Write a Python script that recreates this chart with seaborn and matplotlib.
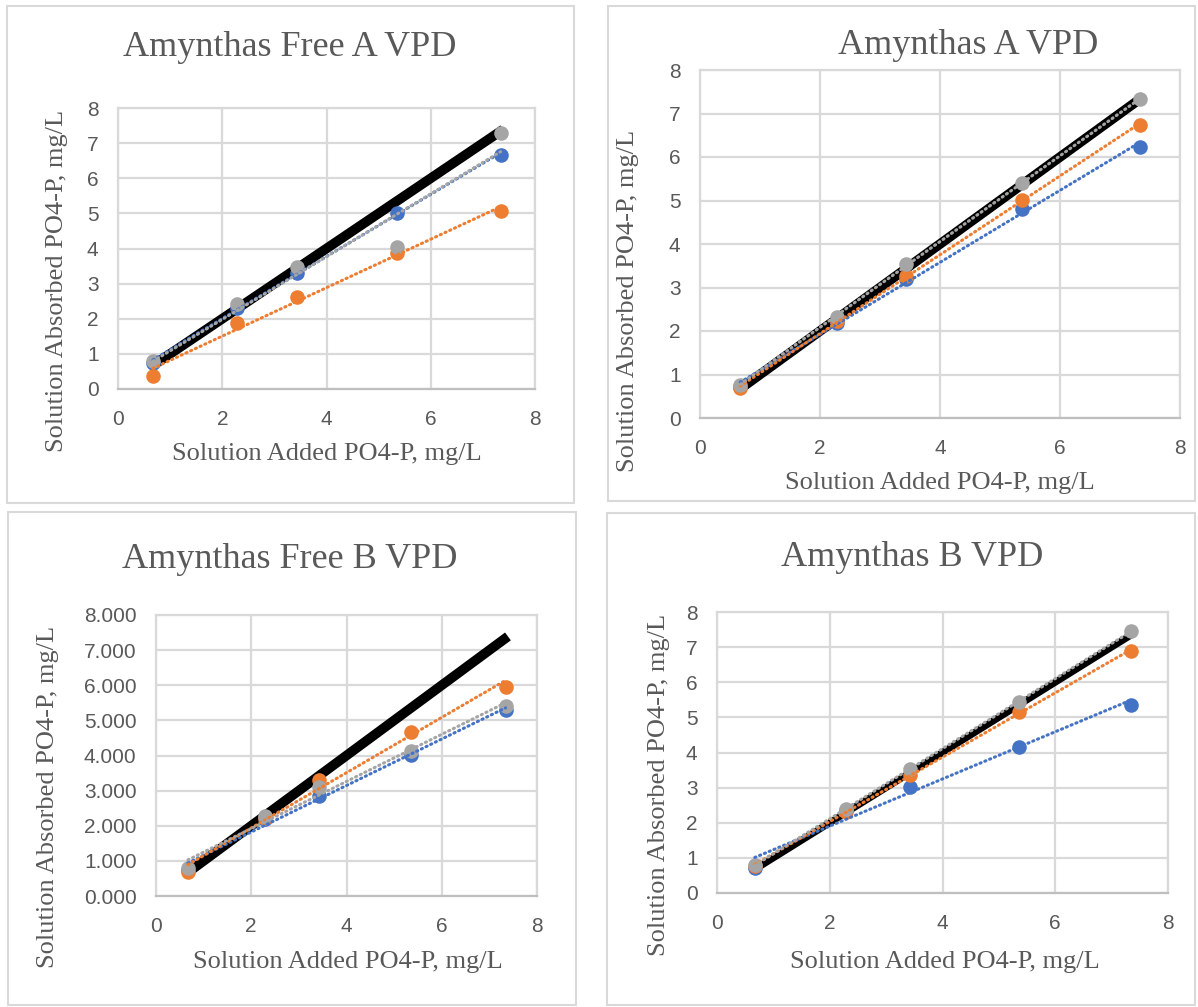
import numpy as np
import pandas as pd
import seaborn as sns
import matplotlib.pyplot as plt
from matplotlib.patches import Rectangle
from matplotlib.ticker import FormatStrFormatter

# added PO4-P concentrations (x) shared by all four panels
x_added = [0.67, 2.28, 3.43, 5.36, 7.34]

# absorbed PO4-P per panel, three replicates each (blue, orange, gray)
free_a_blue = [0.75, 2.32, 3.29, 5.02, 6.67]
free_a_orange = [0.37, 1.88, 2.61, 3.86, 5.07]
free_a_gray = [0.79, 2.43, 3.48, 4.04, 7.28]

a_blue = [0.72, 2.18, 3.20, 4.80, 6.23]
a_orange = [0.68, 2.23, 3.27, 5.01, 6.74]
a_gray = [0.77, 2.32, 3.54, 5.41, 7.33]

free_b_blue = [0.75, 2.20, 2.86, 4.02, 5.29]
free_b_orange = [0.68, 2.22, 3.29, 4.68, 5.96]
free_b_gray = [0.79, 2.28, 3.09, 4.12, 5.41]

b_blue = [0.72, 2.35, 3.03, 4.16, 5.36]
b_orange = [0.78, 2.30, 3.37, 5.16, 6.88]
b_gray = [0.80, 2.40, 3.52, 5.45, 7.46]

titles = ["Amynthas Free A VPD", "Amynthas A VPD", "Amynthas Free B VPD", "Amynthas B VPD"]
xlab = "Solution Added PO4-P, mg/L"
ylab = "Solution Absorbed PO4-P, mg/L"

panels = [
    (free_a_blue, free_a_orange, free_a_gray),
    (a_blue, a_orange, a_gray),
    (free_b_blue, free_b_orange, free_b_gray),
    (b_blue, b_orange, b_gray),
]

W, H = 1198, 1007
# pixel layout: axes box (l, r, top, bottom), panel frame, title / label centres
ax_px = [(118, 535, 108, 389), (700, 1180, 70, 418), (156, 537, 615, 896), (717, 1168, 612, 893)]
frame_px = [(7, 574, 6, 503), (608, 1195, 6, 501), (8, 576, 512, 1005), (607, 1195, 513, 1005)]
title_px = [(290, 48), (968, 45), (290, 560), (912, 558)]
xlab_px = [(327, 454), (940, 483), (348, 962), (945, 962)]
ylab_px = [(57, 281), (628, 301), (48, 797), (659, 785)]
black_lw = [7, 7, 7, 5]

sns.set_theme(style="white")
plt.rcParams['font.family'] = ['Liberation Serif', 'DejaVu Serif']

colors = ["#4472C4", "#ED7D31", "#A5A5A5"]
txt = "#595959"
grid = "#D9D9D9"

fig = plt.figure(figsize=(W / 100, H / 100), dpi=100)

for i, series in enumerate(panels):
    l, r, t, b = ax_px[i]
    ax = fig.add_axes([l / W, 1 - b / H, (r - l) / W, (b - t) / H])

    # 1:1 reference line
    ref = pd.DataFrame({"x": [x_added[0] + 0.05, x_added[-1] + 0.05]})
    sns.lineplot(x=ref["x"], y=ref["x"], ax=ax, color="black", lw=black_lw[i],
                 solid_capstyle="butt", zorder=2)

    for vals, c in zip(series, colors):
        sns.regplot(x=np.array(x_added), y=np.array(vals), ax=ax, ci=None, color=c,
                    scatter_kws={"s": 110, "linewidths": 0, "alpha": 1, "zorder": 3},
                    line_kws={"lw": 2.2, "ls": (0, (0.4, 1.3)), "dash_capstyle": "round",
                              "zorder": 4})

    ax.set_xlim(0, 8)
    ax.set_ylim(0, 8)
    ax.set_xticks(range(0, 9, 2))
    ax.set_yticks(range(0, 9))
    if i == 2:
        ax.yaxis.set_major_formatter(FormatStrFormatter("%.3f"))
    ax.grid(True, color=grid, lw=1.6)
    ax.set_axisbelow(True)
    for s in ax.spines.values():
        s.set_color(grid)
        s.set_linewidth(1.6)
    ax.spines["bottom"].set_color("#BFBFBF")
    ax.tick_params(length=0, labelsize=15, labelcolor=txt)
    ax.tick_params(axis="x", pad=15)
    ax.tick_params(axis="y", pad=14)
    for lab in ax.get_xticklabels() + ax.get_yticklabels():
        lab.set_family(["Liberation Sans", "DejaVu Sans"])
    ax.set_xlabel("")
    ax.set_ylabel("")

    tx, ty = title_px[i]
    fig.text(tx / W, 1 - ty / H, titles[i], fontsize=26, color=txt, ha="center", va="center")
    lx, ly = xlab_px[i]
    fig.text(lx / W, 1 - ly / H, xlab, fontsize=19, color=txt, ha="center", va="center")
    lx, ly = ylab_px[i]
    fig.text(lx / W, 1 - ly / H, ylab, fontsize=19, color=txt, ha="center", va="center",
             rotation=90)

    fl, fr, ft, fb = frame_px[i]
    fig.patches.append(Rectangle((fl / W, 1 - fb / H), (fr - fl) / W, (fb - ft) / H,
                                 transform=fig.transFigure, fill=False, ec=grid, lw=1.5))

fig.savefig("out.png", dpi=100, facecolor="white")
